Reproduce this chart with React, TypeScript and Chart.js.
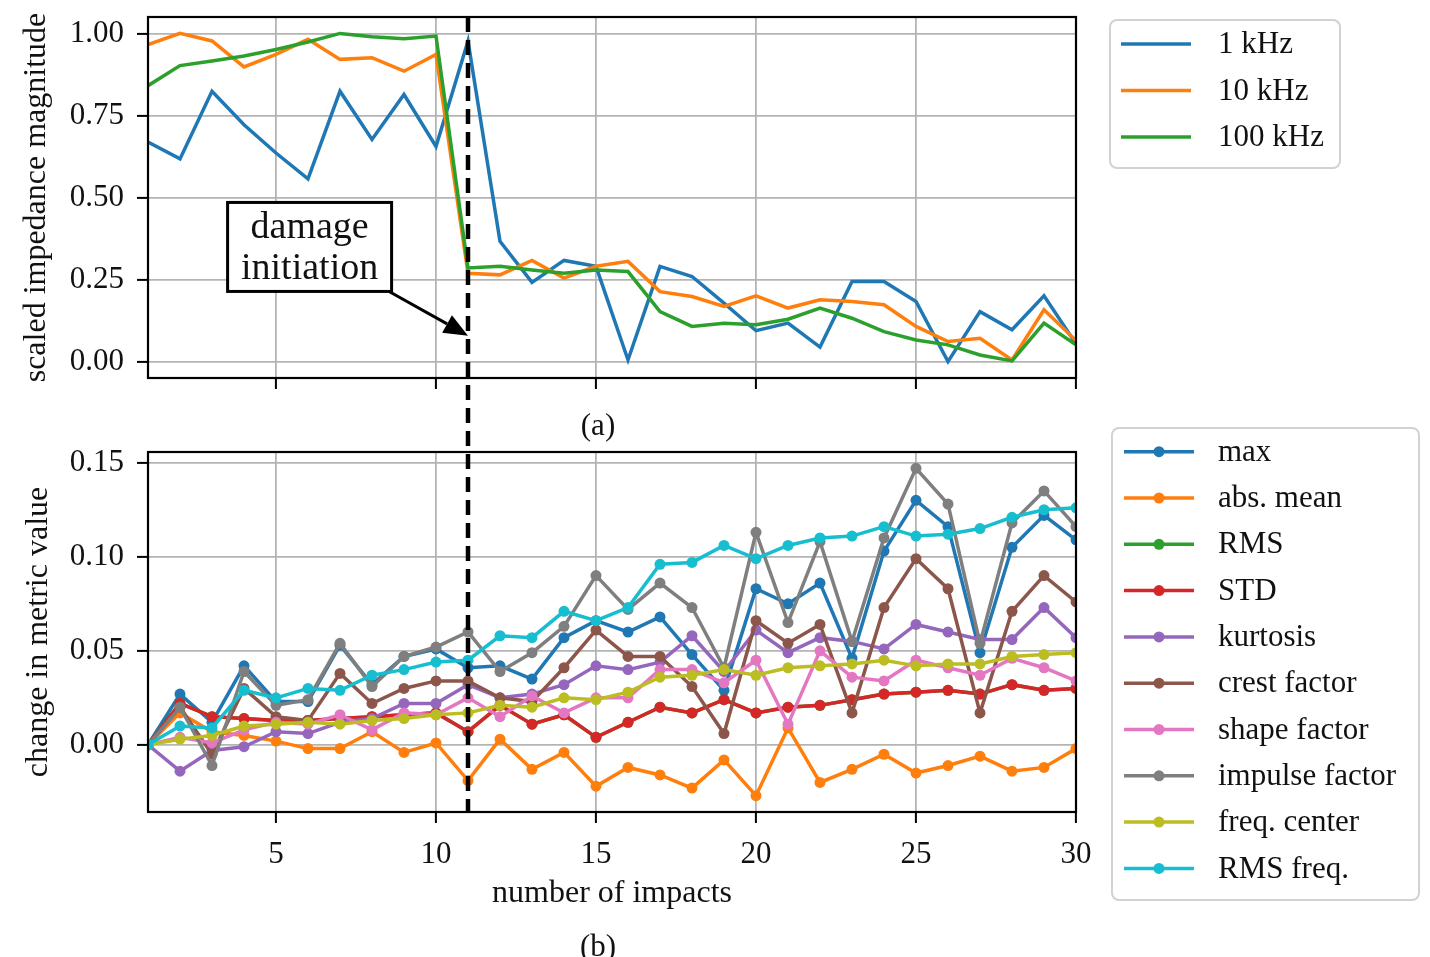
import { useEffect, useRef } from "react";
import { Chart, registerables } from "chart.js";

Chart.register(...registerables);

const FAMILY = "'Liberation Serif', 'Times New Roman', serif";

// ---------- data ----------
const impacts = [1, 2, 3, 4, 5, 6, 7, 8, 9, 10, 11, 12, 13, 14, 15, 16, 17, 18, 19, 20, 21, 22, 23, 24, 25, 26, 27, 28, 29, 30];
const xTickValues = [5, 10, 15, 20, 25, 30];
const topYTicks = [0, 0.25, 0.5, 0.75, 1.0];
const botYTicks = [0, 0.05, 0.1, 0.15];
const damageImpact = 11;

const imp1k = [0.669, 0.618, 0.824, 0.722, 0.636, 0.557, 0.824, 0.677, 0.814, 0.656, 0.977, 0.367, 0.242, 0.309, 0.291, 0.006, 0.291, 0.26, 0.179, 0.095, 0.118, 0.045, 0.245, 0.245, 0.184, 0.001, 0.153, 0.098, 0.201, 0.055];
const imp10k = [0.966, 1.0, 0.977, 0.898, 0.936, 0.982, 0.921, 0.926, 0.885, 0.936, 0.27, 0.265, 0.309, 0.255, 0.291, 0.306, 0.214, 0.199, 0.169, 0.201, 0.164, 0.189, 0.184, 0.174, 0.108, 0.062, 0.072, 0.006, 0.159, 0.065];
const imp100k = [0.841, 0.902, 0.916, 0.931, 0.951, 0.974, 1.0, 0.99, 0.984, 0.992, 0.286, 0.291, 0.28, 0.27, 0.28, 0.275, 0.153, 0.108, 0.118, 0.113, 0.13, 0.164, 0.133, 0.092, 0.067, 0.052, 0.021, 0.003, 0.118, 0.052];

const mMax = [0, 0.027, 0.012, 0.042, 0.023, 0.023, 0.053, 0.032, 0.047, 0.051, 0.041, 0.042, 0.035, 0.057, 0.066, 0.06, 0.068, 0.048, 0.029, 0.083, 0.075, 0.086, 0.046, 0.103, 0.13, 0.116, 0.049, 0.105, 0.122, 0.109];
const mAbsMean = [0, 0.017, 0.007, 0.005, 0.002, -0.002, -0.002, 0.007, -0.004, 0.001, -0.019, 0.003, -0.013, -0.004, -0.022, -0.012, -0.016, -0.023, -0.008, -0.027, 0.009, -0.02, -0.013, -0.005, -0.015, -0.011, -0.006, -0.014, -0.012, -0.002];
const mRMS = [0, 0.022, 0.015, 0.014, 0.013, 0.013, 0.014, 0.015, 0.016, 0.017, 0.007, 0.021, 0.011, 0.016, 0.004, 0.012, 0.02, 0.017, 0.024, 0.017, 0.02, 0.021, 0.024, 0.027, 0.028, 0.029, 0.027, 0.032, 0.029, 0.03];
const mSTD = [0, 0.022, 0.015, 0.014, 0.013, 0.013, 0.014, 0.015, 0.016, 0.017, 0.007, 0.021, 0.011, 0.016, 0.004, 0.012, 0.02, 0.017, 0.024, 0.017, 0.02, 0.021, 0.024, 0.027, 0.028, 0.029, 0.027, 0.032, 0.029, 0.03];
const mKurtosis = [0, -0.014, -0.003, -0.001, 0.007, 0.006, 0.012, 0.014, 0.022, 0.022, 0.032, 0.025, 0.027, 0.032, 0.042, 0.04, 0.044, 0.058, 0.039, 0.061, 0.049, 0.057, 0.055, 0.051, 0.064, 0.06, 0.056, 0.056, 0.073, 0.057];
const mCrest = [0, 0.02, -0.005, 0.03, 0.015, 0.013, 0.038, 0.022, 0.03, 0.034, 0.034, 0.025, 0.023, 0.041, 0.061, 0.047, 0.047, 0.031, 0.006, 0.066, 0.054, 0.064, 0.017, 0.073, 0.099, 0.083, 0.017, 0.071, 0.09, 0.076];
const mShape = [0, 0.004, 0.001, 0.008, 0.012, 0.011, 0.016, 0.008, 0.017, 0.016, 0.025, 0.015, 0.026, 0.017, 0.025, 0.025, 0.04, 0.04, 0.033, 0.045, 0.011, 0.05, 0.036, 0.034, 0.045, 0.041, 0.037, 0.046, 0.041, 0.034];
const mImpulse = [0, 0.02, -0.011, 0.039, 0.021, 0.024, 0.054, 0.031, 0.047, 0.052, 0.06, 0.039, 0.049, 0.063, 0.09, 0.072, 0.086, 0.073, 0.041, 0.113, 0.065, 0.108, 0.055, 0.11, 0.147, 0.128, 0.054, 0.118, 0.135, 0.116];
const mFreqCenter = [0, 0.003, 0.005, 0.01, 0.011, 0.012, 0.011, 0.013, 0.014, 0.016, 0.017, 0.021, 0.02, 0.025, 0.024, 0.028, 0.036, 0.037, 0.04, 0.037, 0.041, 0.042, 0.043, 0.045, 0.042, 0.043, 0.043, 0.047, 0.048, 0.049];
const mRMSFreq = [0, 0.01, 0.009, 0.029, 0.025, 0.03, 0.029, 0.037, 0.04, 0.044, 0.045, 0.058, 0.057, 0.071, 0.066, 0.073, 0.096, 0.097, 0.106, 0.099, 0.106, 0.11, 0.111, 0.116, 0.111, 0.112, 0.115, 0.121, 0.125, 0.126];

const topLabels = ["1 kHz", "10 kHz", "100 kHz"];
const topSeries = [imp1k, imp10k, imp100k];
const topColors = ["#1f77b4", "#ff7f0e", "#2ca02c"];

const botLabels = ["max", "abs. mean", "RMS", "STD", "kurtosis", "crest factor", "shape factor", "impulse factor", "freq. center", "RMS freq."];
const botSeries = [mMax, mAbsMean, mRMS, mSTD, mKurtosis, mCrest, mShape, mImpulse, mFreqCenter, mRMSFreq];
const botColors = ["#1f77b4", "#ff7f0e", "#2ca02c", "#d62728", "#9467bd", "#8c564b", "#e377c2", "#7f7f7f", "#bcbd22", "#17becf"];

const annotText = ["damage", "initiation"];
const annotAt = { x: 6.05, y: 0.35 };
const arrowTarget = { x: 11, y: 0.08 };

// ---------- helpers ----------
function limits(series: number[][]) {
  const all = series.flat();
  const lo = Math.min(...all);
  const hi = Math.max(...all);
  const r = hi - lo;
  return { min: lo - 0.05 * r, max: hi + 0.05 * r };
}

const DASH = [15, 8];
const DASH_PERIOD = DASH[0] + DASH[1];
const TOP_H = 400;
const BOT_H = 557;
const LINE_W = 3.5;

function gridOpts() {
  return { color: "#b4b4b4", lineWidth: 1.8, tickLength: 11, tickColor: "#000", tickWidth: 2, drawTicks: true };
}

function fixWidth(w: number) {
  return (s: any) => {
    s.width = w;
    s.paddingTop = 0;
    s.paddingBottom = 0;
  };
}
function fixHeight(h: number) {
  return (s: any) => {
    s.height = h;
    s.paddingLeft = 0;
    s.paddingRight = 0;
  };
}

const framePlugin = {
  id: "frame",
  afterDatasetsDraw(chart: any) {
    const a = chart.chartArea;
    const ctx = chart.ctx;
    ctx.save();
    ctx.strokeStyle = "#000";
    ctx.lineWidth = 2.2;
    ctx.strokeRect(a.left, a.top, a.right - a.left, a.bottom - a.top);
    ctx.restore();
  },
};

function dashPlugin(fromTop: boolean, offsetGetter: () => number) {
  return {
    id: "dashline",
    afterDatasetsDraw(chart: any) {
      const a = chart.chartArea;
      const ctx = chart.ctx;
      const x = chart.scales.x.getPixelForValue(damageImpact);
      ctx.save();
      ctx.strokeStyle = "#000";
      ctx.lineWidth = 4.5;
      ctx.setLineDash(DASH);
      ctx.lineDashOffset = offsetGetter();
      ctx.beginPath();
      if (fromTop) {
        ctx.moveTo(x, a.top);
        ctx.lineTo(x, chart.height);
      } else {
        ctx.moveTo(x, 0);
        ctx.lineTo(x, a.bottom);
      }
      ctx.stroke();
      ctx.restore();
    },
  };
}

function legendPlugin(box: { dx: number; dy: number; w: number; h: number; first: number; step: number; l0: number; l1: number; tx: number }, markers: boolean) {
  return {
    id: "customLegend",
    afterDraw(chart: any) {
      const a = chart.chartArea;
      const ctx = chart.ctx;
      const x0 = a.right + box.dx;
      const y0 = a.top + box.dy;
      ctx.save();
      ctx.beginPath();
      ctx.roundRect(x0, y0, box.w, box.h, 7);
      ctx.fillStyle = "rgba(255,255,255,0.85)";
      ctx.fill();
      ctx.strokeStyle = "#d2d2d2";
      ctx.lineWidth = 2;
      ctx.stroke();
      chart.data.datasets.forEach((ds: any, i: number) => {
        const y = y0 + box.first + i * box.step;
        ctx.strokeStyle = ds.borderColor;
        ctx.lineWidth = LINE_W;
        ctx.setLineDash([]);
        ctx.beginPath();
        ctx.moveTo(x0 + box.l0, y);
        ctx.lineTo(x0 + box.l1, y);
        ctx.stroke();
        if (markers) {
          ctx.fillStyle = ds.borderColor;
          ctx.beginPath();
          ctx.arc(x0 + (box.l0 + box.l1) / 2, y, 5.5, 0, Math.PI * 2);
          ctx.fill();
        }
        ctx.fillStyle = "#111";
        ctx.font = `31px ${FAMILY}`;
        ctx.textAlign = "left";
        ctx.textBaseline = "middle";
        ctx.fillText(ds.label, x0 + box.tx, y + 1);
      });
      ctx.restore();
    },
  };
}

const annotationPlugin = {
  id: "annot",
  afterDraw(chart: any) {
    const { x, y } = chart.scales;
    const ctx = chart.ctx;
    const cx = x.getPixelForValue(annotAt.x);
    const cy = y.getPixelForValue(annotAt.y);
    const tx = x.getPixelForValue(arrowTarget.x);
    const ty = y.getPixelForValue(arrowTarget.y);
    const w = 164;
    const h = 89;
    const dx = tx - cx;
    const dy = ty - cy;
    const t = Math.min(w / 2 / Math.abs(dx), h / 2 / Math.abs(dy));
    const sx = cx + t * dx;
    const sy = cy + t * dy;
    const len = Math.hypot(tx - sx, ty - sy);
    const ux = (tx - sx) / len;
    const uy = (ty - sy) / len;
    const headL = 24;
    const headW = 10;
    const bx = tx - ux * headL;
    const by = ty - uy * headL;
    ctx.save();
    ctx.strokeStyle = "#000";
    ctx.lineWidth = 3;
    ctx.beginPath();
    ctx.moveTo(sx, sy);
    ctx.lineTo(bx, by);
    ctx.stroke();
    ctx.fillStyle = "#000";
    ctx.beginPath();
    ctx.moveTo(tx, ty);
    ctx.lineTo(bx - uy * headW, by + ux * headW);
    ctx.lineTo(bx + uy * headW, by - ux * headW);
    ctx.closePath();
    ctx.fill();
    ctx.fillStyle = "#fff";
    ctx.fillRect(cx - w / 2, cy - h / 2, w, h);
    ctx.lineWidth = 3;
    ctx.strokeRect(cx - w / 2, cy - h / 2, w, h);
    ctx.fillStyle = "#111";
    ctx.font = `38px ${FAMILY}`;
    ctx.textAlign = "center";
    ctx.textBaseline = "middle";
    ctx.fillText(annotText[0], cx, cy - 19);
    ctx.fillText(annotText[1], cx, cy + 22);
    ctx.restore();
  },
};

const captionPlugin = {
  id: "captions",
  afterDraw(chart: any) {
    const a = chart.chartArea;
    const ctx = chart.ctx;
    ctx.save();
    ctx.fillStyle = "#111";
    ctx.font = `31px ${FAMILY}`;
    ctx.textAlign = "center";
    ctx.textBaseline = "middle";
    ctx.fillText("(a)", a.left + 450, 27);
    ctx.fillText("(b)", a.left + 450, chart.height - 9);
    ctx.restore();
  },
};

export default function App() {
  const topRef = useRef<HTMLCanvasElement | null>(null);
  const botRef = useRef<HTMLCanvasElement | null>(null);

  useEffect(() => {
    if (!topRef.current || !botRef.current) return;
    const topLim = limits(topSeries);
    const botLim = limits(botSeries);
    const tickFont = { family: FAMILY, size: 31 };
    const titleFont = { family: FAMILY, size: 32 };

    const top = new Chart(topRef.current, {
      type: "line",
      data: {
        datasets: topSeries.map((s, i) => ({
          label: topLabels[i],
          data: impacts.map((x, j) => ({ x, y: s[j] })),
          borderColor: topColors[i],
          backgroundColor: topColors[i],
          borderWidth: LINE_W,
          pointRadius: 0,
          tension: 0,
          fill: false,
          order: topSeries.length - i,
        })),
      },
      options: {
        responsive: false,
        animation: false,
        events: [],
        layout: { padding: { left: 0, top: 17, right: 354, bottom: 0 } },
        plugins: { legend: { display: false }, tooltip: { enabled: false } },
        scales: {
          x: {
            type: "linear",
            min: 1,
            max: 30,
            afterBuildTicks: (s: any) => {
              s.ticks = xTickValues.map((v) => ({ value: v }));
            },
            afterFit: fixHeight(22),
            ticks: { display: false },
            grid: gridOpts(),
            border: { display: false },
          },
          y: {
            type: "linear",
            min: topLim.min,
            max: topLim.max,
            afterBuildTicks: (s: any) => {
              s.ticks = topYTicks.map((v) => ({ value: v }));
            },
            afterFit: fixWidth(148),
            ticks: { font: tickFont, color: "#111", padding: 13, callback: (v: any) => Number(v).toFixed(2) },
            grid: gridOpts(),
            border: { display: false },
            title: { display: true, text: "scaled impedance magnitude", font: titleFont, color: "#111", padding: { top: 17, bottom: 0 } },
          },
        },
      } as any,
      plugins: [
        framePlugin,
        dashPlugin(true, () => 0),
        legendPlugin({ dx: 34, dy: 3, w: 230, h: 148, first: 24, step: 46.5, l0: 11, l1: 81, tx: 108 }, false),
        annotationPlugin,
      ],
    });

    const bot = new Chart(botRef.current, {
      type: "line",
      data: {
        datasets: botSeries.map((s, i) => ({
          label: botLabels[i],
          data: impacts.map((x, j) => ({ x, y: s[j] })),
          borderColor: botColors[i],
          backgroundColor: botColors[i],
          pointBackgroundColor: botColors[i],
          pointBorderWidth: 0,
          borderWidth: LINE_W,
          pointRadius: 5.5,
          tension: 0,
          fill: false,
          order: botSeries.length - i,
        })),
      },
      options: {
        responsive: false,
        animation: false,
        events: [],
        layout: { padding: { left: 0, top: 52, right: 354, bottom: 0 } },
        plugins: { legend: { display: false }, tooltip: { enabled: false } },
        scales: {
          x: {
            type: "linear",
            min: 1,
            max: 30,
            afterBuildTicks: (s: any) => {
              s.ticks = xTickValues.map((v) => ({ value: v }));
            },
            afterFit: fixHeight(145),
            ticks: { font: tickFont, color: "#111", padding: 13, maxRotation: 0, callback: (v: any) => String(v) },
            grid: gridOpts(),
            border: { display: false },
            title: { display: true, text: "number of impacts", font: titleFont, color: "#111", padding: { top: 0, bottom: 44 } },
          },
          y: {
            type: "linear",
            min: botLim.min,
            max: botLim.max,
            afterBuildTicks: (s: any) => {
              s.ticks = botYTicks.map((v) => ({ value: v }));
            },
            afterFit: fixWidth(148),
            ticks: { font: tickFont, color: "#111", padding: 13, callback: (v: any) => Number(v).toFixed(2) },
            grid: gridOpts(),
            border: { display: false },
            title: { display: true, text: "change in metric value", font: titleFont, color: "#111", padding: { top: 19, bottom: 0 } },
          },
        },
      } as any,
      plugins: [
        framePlugin,
        dashPlugin(false, () => {
          const startTop = top.chartArea ? top.chartArea.top : 17;
          return (((TOP_H - startTop) % DASH_PERIOD) + DASH_PERIOD) % DASH_PERIOD;
        }),
        legendPlugin({ dx: 36, dy: -24, w: 307, h: 472, first: 23.7, step: 46.3, l0: 12, l1: 82, tx: 106 }, true),
        captionPlugin,
      ],
    });

    return () => {
      top.destroy();
      bot.destroy();
    };
  }, []);

  return (
    <div style={{ position: "absolute", left: 0, top: 0, width: 1430, height: 957, background: "#fff" }}>
      <canvas ref={topRef} width={1430} height={TOP_H} style={{ position: "absolute", left: 0, top: 0, width: 1430, height: TOP_H }} />
      <canvas ref={botRef} width={1430} height={BOT_H} style={{ position: "absolute", left: 0, top: TOP_H, width: 1430, height: BOT_H }} />
    </div>
  );
}
